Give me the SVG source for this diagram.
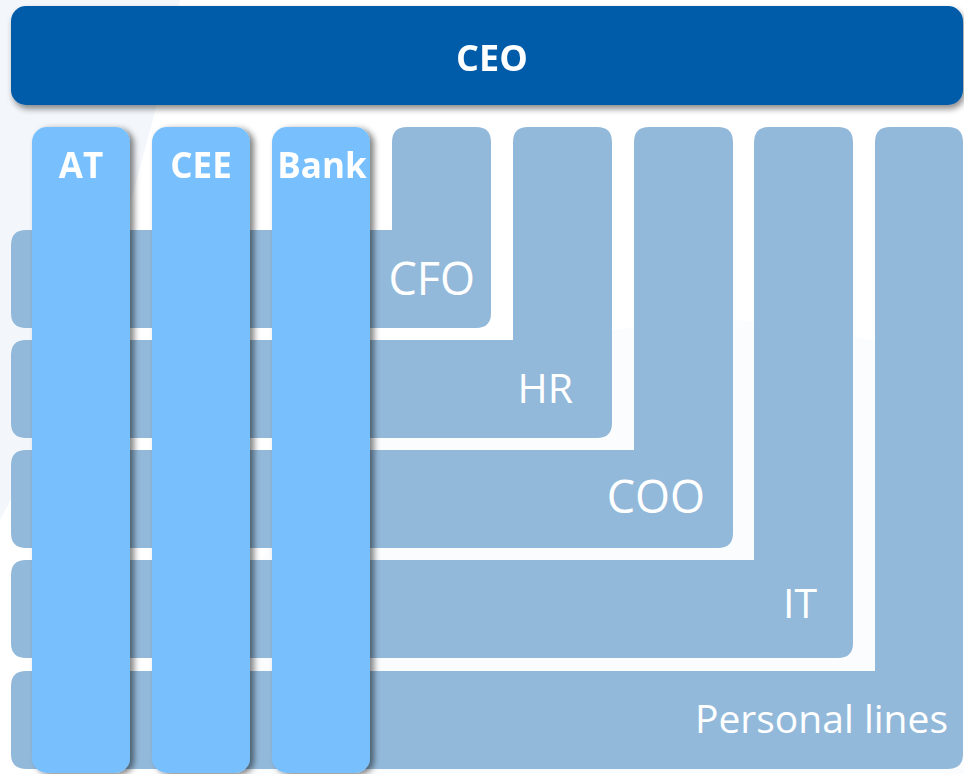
<svg xmlns="http://www.w3.org/2000/svg" width="964" height="774" viewBox="0 0 964 774">
  <defs>
    <filter id="shadowRight" x="-20%" y="-5%" width="150%" height="110%">
      <feGaussianBlur in="SourceAlpha" stdDeviation="3"/>
      <feOffset dx="4" dy="2" result="b"/>
      <feComponentTransfer><feFuncA type="linear" slope="0.5"/></feComponentTransfer>
      <feMerge><feMergeNode/><feMergeNode in="SourceGraphic"/></feMerge>
    </filter>
    <filter id="shadowDown" x="-5%" y="-20%" width="110%" height="150%">
      <feGaussianBlur in="SourceAlpha" stdDeviation="3"/>
      <feOffset dx="2" dy="4" result="b"/>
      <feComponentTransfer><feFuncA type="linear" slope="0.45"/></feComponentTransfer>
      <feMerge><feMergeNode/><feMergeNode in="SourceGraphic"/></feMerge>
    </filter>
  </defs>
  <style>
    .unit { fill: #93B9DA; }
    .region { fill: #78C0FD; }
    .ceo { fill: #005BA8; }
    .lbl { font-family: "Open Sans", "Liberation Sans", sans-serif; fill: #FFFFFF; }
    .bold { font-weight: 700; font-size: 35px; text-anchor: middle; }
    .fn { font-weight: 400; font-size: 41px; text-anchor: end; }
  </style>

  <!-- soft background -->
  <rect x="0" y="0" width="964" height="774" fill="#FFFFFF"/>
  <path d="M0 0 H180 Q 120 300 0 520 Z" fill="#F3F7FB"/>
  <circle cx="720" cy="880" r="560" fill="#FAFCFE"/>

  <!-- functional units: L-shaped areas -->
  <g id="personal-lines">
    <path class="unit" d="M890 127 H948 Q963 127 963 142 V754 Q963 769 948 769 H26 Q11 769 11 754 V686 Q11 671 26 671 H875 V142 Q875 127 890 127 Z"/>
    <text class="lbl fn" x="948" y="733" style="font-size:39px">Personal lines</text>
  </g>
  <g id="it">
    <path class="unit" d="M769 127 H838 Q853 127 853 142 V643 Q853 658 838 658 H26 Q11 658 11 643 V575 Q11 560 26 560 H754 V142 Q754 127 769 127 Z"/>
    <text class="lbl fn" x="817" y="618">IT</text>
  </g>
  <g id="coo">
    <path class="unit" d="M649 127 H718 Q733 127 733 142 V533 Q733 548 718 548 H26 Q11 548 11 533 V465 Q11 450 26 450 H634 V142 Q634 127 649 127 Z"/>
    <text class="lbl fn" x="705" y="513" style="font-size:45px">COO</text>
  </g>
  <g id="hr">
    <path class="unit" d="M528 127 H597 Q612 127 612 142 V423 Q612 438 597 438 H26 Q11 438 11 423 V355 Q11 340 26 340 H513 V142 Q513 127 528 127 Z"/>
    <text class="lbl fn" x="573" y="403">HR</text>
  </g>
  <g id="cfo">
    <path class="unit" d="M407 127 H476 Q491 127 491 142 V313 Q491 328 476 328 H26 Q11 328 11 313 V245 Q11 230 26 230 H392 V142 Q392 127 407 127 Z"/>
    <text class="lbl fn" x="475" y="295" style="font-size:45px">CFO</text>
  </g>

  <!-- regional columns -->
  <g id="at" filter="url(#shadowRight)">
    <rect class="region" x="32" y="127" width="98" height="646" rx="15"/>
    <text class="lbl bold" x="81" y="178">AT</text>
  </g>
  <g id="cee" filter="url(#shadowRight)">
    <rect class="region" x="152" y="127" width="98" height="646" rx="15"/>
    <text class="lbl bold" x="201" y="178">CEE</text>
  </g>
  <g id="bank" filter="url(#shadowRight)">
    <rect class="region" x="272" y="127" width="98" height="646" rx="15"/>
    <text class="lbl bold" x="322" y="178">Bank</text>
  </g>

  <!-- top bar -->
  <g id="ceo" filter="url(#shadowDown)">
    <rect class="ceo" x="11" y="6" width="952" height="99" rx="15"/>
    <text class="lbl" x="492" y="71" font-size="36" font-weight="700" text-anchor="middle">CEO</text>
  </g>

  <g id="connectors"></g>
</svg>
